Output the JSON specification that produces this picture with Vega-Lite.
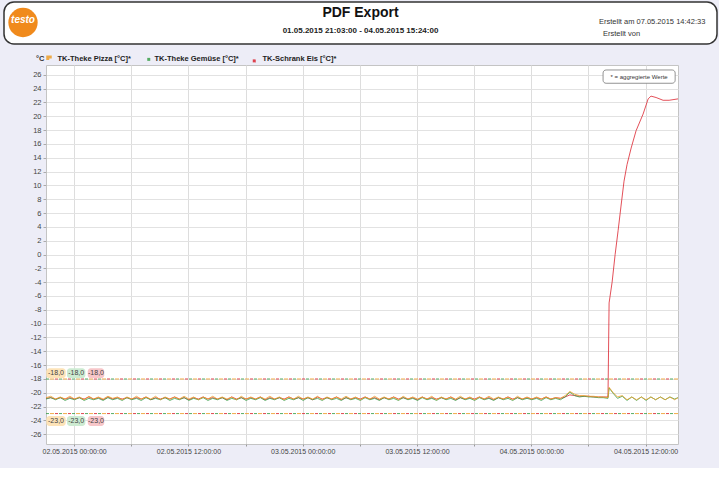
{
"$schema": "https://vega.github.io/schema/vega-lite/v6.json",
"background": "#ededf7",
"padding": {"top": 1, "left": 3, "right": 1, "bottom": 13},
"spacing": 8,
"columns": 1,
"align": "none",
"resolve": {"scale": {"color": "independent", "strokeDash": "independent"}, "legend": {"color": "independent", "strokeDash": "independent"}},
"config": {"font": "Liberation Sans", "view": {"stroke": null},
"axisY": {"tickCount": 27, "labelExpr": "replace(datum.label, '−', '-')", "labelFontSize": 7.5, "labelColor": "#444444", "tickSize": 3, "tickColor": "#aaaaaa", "labelPadding": 2, "domain": false, "gridColor": "#e2e2e2", "minExtent": 42,
"titleAngle": 0, "titleX": -2, "titleY": -7, "titleAlign": "right", "titleBaseline": "middle", "titleFontSize": 7.5, "titleFontWeight": "bold", "titleColor": "#333333"},
"axisX": {"tickCount": 11, "labelExpr": "hours(datum.value) % 12 == 0 ? timeFormat(datum.value, '%d.%m.%Y %H:%M:%S') : ''", "labelOverlap": false, "labelFlush": false, "labelFontSize": 7, "labelColor": "#444444", "labelPadding": 1, "tickSize": 2, "tickColor": "#999999", "domain": false, "gridColor": "#dddddd"}
},
"datasets": {
"temps": [
{"t":"2015-05-01T21:03","p":-20.7,"g":-20.9,"e":-20.8},
{"t":"2015-05-01T21:33","p":-20.5,"g":-20.7,"e":-20.7},
{"t":"2015-05-01T22:03","p":-20.9,"g":-21.0,"e":-20.9},
{"t":"2015-05-01T22:33","p":-20.6,"g":-20.7,"e":-20.7},
{"t":"2015-05-01T23:03","p":-20.9,"g":-21.1,"e":-20.9},
{"t":"2015-05-01T23:33","p":-20.5,"g":-20.8,"e":-20.7},
{"t":"2015-05-02T00:03","p":-20.9,"g":-21.0,"e":-20.9},
{"t":"2015-05-02T00:33","p":-20.6,"g":-20.7,"e":-20.7},
{"t":"2015-05-02T01:03","p":-21.0,"g":-21.1,"e":-20.9},
{"t":"2015-05-02T01:33","p":-20.5,"g":-20.8,"e":-20.6},
{"t":"2015-05-02T02:03","p":-20.9,"g":-21.0,"e":-20.9},
{"t":"2015-05-02T02:33","p":-20.6,"g":-20.8,"e":-20.7},
{"t":"2015-05-02T03:03","p":-20.9,"g":-21.1,"e":-21.0},
{"t":"2015-05-02T03:33","p":-20.5,"g":-20.7,"e":-20.6},
{"t":"2015-05-02T04:03","p":-20.8,"g":-21.0,"e":-20.9},
{"t":"2015-05-02T04:33","p":-20.6,"g":-20.8,"e":-20.7},
{"t":"2015-05-02T05:03","p":-21.0,"g":-21.1,"e":-20.9},
{"t":"2015-05-02T05:33","p":-20.6,"g":-20.7,"e":-20.7},
{"t":"2015-05-02T06:03","p":-20.9,"g":-21.0,"e":-20.9},
{"t":"2015-05-02T06:33","p":-20.5,"g":-20.8,"e":-20.7},
{"t":"2015-05-02T07:03","p":-20.9,"g":-21.1,"e":-20.9},
{"t":"2015-05-02T07:33","p":-20.6,"g":-20.7,"e":-20.6},
{"t":"2015-05-02T08:03","p":-20.9,"g":-21.0,"e":-21.0},
{"t":"2015-05-02T08:33","p":-20.5,"g":-20.8,"e":-20.7},
{"t":"2015-05-02T09:03","p":-21.0,"g":-21.0,"e":-20.9},
{"t":"2015-05-02T09:33","p":-20.6,"g":-20.7,"e":-20.7},
{"t":"2015-05-02T10:03","p":-20.9,"g":-21.1,"e":-20.9},
{"t":"2015-05-02T10:33","p":-20.6,"g":-20.8,"e":-20.6},
{"t":"2015-05-02T11:03","p":-20.9,"g":-21.0,"e":-20.9},
{"t":"2015-05-02T11:33","p":-20.5,"g":-20.7,"e":-20.7},
{"t":"2015-05-02T12:03","p":-20.9,"g":-21.1,"e":-21.0},
{"t":"2015-05-02T12:33","p":-20.6,"g":-20.8,"e":-20.7},
{"t":"2015-05-02T13:03","p":-21.0,"g":-21.0,"e":-20.9},
{"t":"2015-05-02T13:33","p":-20.6,"g":-20.7,"e":-20.6},
{"t":"2015-05-02T14:03","p":-20.9,"g":-21.1,"e":-20.9},
{"t":"2015-05-02T14:33","p":-20.5,"g":-20.8,"e":-20.7},
{"t":"2015-05-02T15:03","p":-20.9,"g":-21.0,"e":-20.9},
{"t":"2015-05-02T15:33","p":-20.6,"g":-20.7,"e":-20.7},
{"t":"2015-05-02T16:03","p":-20.9,"g":-21.1,"e":-21.0},
{"t":"2015-05-02T16:33","p":-20.6,"g":-20.8,"e":-20.6},
{"t":"2015-05-02T17:03","p":-21.0,"g":-21.0,"e":-20.9},
{"t":"2015-05-02T17:33","p":-20.5,"g":-20.7,"e":-20.7},
{"t":"2015-05-02T18:03","p":-20.9,"g":-21.1,"e":-20.9},
{"t":"2015-05-02T18:33","p":-20.6,"g":-20.8,"e":-20.7},
{"t":"2015-05-02T19:03","p":-20.9,"g":-21.0,"e":-20.9},
{"t":"2015-05-02T19:33","p":-20.6,"g":-20.7,"e":-20.6},
{"t":"2015-05-02T20:03","p":-20.9,"g":-21.1,"e":-21.0},
{"t":"2015-05-02T20:33","p":-20.5,"g":-20.8,"e":-20.7},
{"t":"2015-05-02T21:03","p":-20.9,"g":-21.0,"e":-20.9},
{"t":"2015-05-02T21:33","p":-20.6,"g":-20.7,"e":-20.7},
{"t":"2015-05-02T22:03","p":-21.0,"g":-21.1,"e":-20.9},
{"t":"2015-05-02T22:33","p":-20.6,"g":-20.8,"e":-20.6},
{"t":"2015-05-02T23:03","p":-20.9,"g":-21.0,"e":-20.9},
{"t":"2015-05-02T23:33","p":-20.5,"g":-20.7,"e":-20.7},
{"t":"2015-05-03T00:03","p":-20.9,"g":-21.1,"e":-20.9},
{"t":"2015-05-03T00:33","p":-20.6,"g":-20.7,"e":-20.7},
{"t":"2015-05-03T01:03","p":-20.9,"g":-21.0,"e":-21.0},
{"t":"2015-05-03T01:33","p":-20.5,"g":-20.8,"e":-20.6},
{"t":"2015-05-03T02:03","p":-21.0,"g":-21.1,"e":-20.9},
{"t":"2015-05-03T02:33","p":-20.6,"g":-20.7,"e":-20.7},
{"t":"2015-05-03T03:03","p":-20.9,"g":-21.0,"e":-20.9},
{"t":"2015-05-03T03:33","p":-20.6,"g":-20.8,"e":-20.6},
{"t":"2015-05-03T04:03","p":-20.9,"g":-21.1,"e":-21.0},
{"t":"2015-05-03T04:33","p":-20.5,"g":-20.7,"e":-20.7},
{"t":"2015-05-03T05:03","p":-20.9,"g":-21.0,"e":-20.9},
{"t":"2015-05-03T05:33","p":-20.6,"g":-20.8,"e":-20.7},
{"t":"2015-05-03T06:03","p":-21.0,"g":-21.1,"e":-20.9},
{"t":"2015-05-03T06:33","p":-20.6,"g":-20.7,"e":-20.6},
{"t":"2015-05-03T07:03","p":-20.9,"g":-21.0,"e":-20.9},
{"t":"2015-05-03T07:33","p":-20.5,"g":-20.8,"e":-20.7},
{"t":"2015-05-03T08:03","p":-20.9,"g":-21.1,"e":-21.0},
{"t":"2015-05-03T08:33","p":-20.6,"g":-20.7,"e":-20.7},
{"t":"2015-05-03T09:03","p":-20.9,"g":-21.0,"e":-20.9},
{"t":"2015-05-03T09:33","p":-20.6,"g":-20.8,"e":-20.6},
{"t":"2015-05-03T10:03","p":-21.0,"g":-21.1,"e":-20.9},
{"t":"2015-05-03T10:33","p":-20.5,"g":-20.7,"e":-20.7},
{"t":"2015-05-03T11:03","p":-20.9,"g":-21.0,"e":-20.9},
{"t":"2015-05-03T11:33","p":-20.6,"g":-20.8,"e":-20.7},
{"t":"2015-05-03T12:03","p":-20.9,"g":-21.1,"e":-21.0},
{"t":"2015-05-03T12:33","p":-20.6,"g":-20.7,"e":-20.6},
{"t":"2015-05-03T13:03","p":-20.9,"g":-21.0,"e":-20.9},
{"t":"2015-05-03T13:33","p":-20.5,"g":-20.8,"e":-20.7},
{"t":"2015-05-03T14:03","p":-21.0,"g":-21.1,"e":-20.9},
{"t":"2015-05-03T14:33","p":-20.6,"g":-20.7,"e":-20.7},
{"t":"2015-05-03T15:03","p":-20.9,"g":-21.0,"e":-20.9},
{"t":"2015-05-03T15:33","p":-20.6,"g":-20.8,"e":-20.6},
{"t":"2015-05-03T16:03","p":-20.9,"g":-21.1,"e":-21.0},
{"t":"2015-05-03T16:33","p":-20.5,"g":-20.7,"e":-20.7},
{"t":"2015-05-03T17:03","p":-20.9,"g":-21.0,"e":-20.9},
{"t":"2015-05-03T17:33","p":-20.6,"g":-20.8,"e":-20.7},
{"t":"2015-05-03T18:03","p":-21.0,"g":-21.1,"e":-20.9},
{"t":"2015-05-03T18:33","p":-20.6,"g":-20.7,"e":-20.6},
{"t":"2015-05-03T19:03","p":-20.9,"g":-21.0,"e":-20.9},
{"t":"2015-05-03T19:33","p":-20.5,"g":-20.8,"e":-20.7},
{"t":"2015-05-03T20:03","p":-20.9,"g":-21.1,"e":-21.0},
{"t":"2015-05-03T20:33","p":-20.6,"g":-20.7,"e":-20.7},
{"t":"2015-05-03T21:03","p":-20.9,"g":-21.0,"e":-20.9},
{"t":"2015-05-03T21:33","p":-20.6,"g":-20.8,"e":-20.6},
{"t":"2015-05-03T22:03","p":-21.0,"g":-21.1,"e":-20.9},
{"t":"2015-05-03T22:33","p":-20.5,"g":-20.7,"e":-20.7},
{"t":"2015-05-03T23:03","p":-20.9,"g":-21.0,"e":-20.9},
{"t":"2015-05-03T23:33","p":-20.6,"g":-20.8,"e":-20.7},
{"t":"2015-05-04T00:03","p":-20.9,"g":-21.0,"e":-20.9},
{"t":"2015-05-04T00:33","p":-20.6,"g":-20.8,"e":-20.7},
{"t":"2015-05-04T01:03","p":-20.9,"g":-21.1,"e":-20.9},
{"t":"2015-05-04T01:33","p":-20.6,"g":-20.7,"e":-20.6},
{"t":"2015-05-04T02:03","p":-20.9,"g":-21.0,"e":-20.9},
{"t":"2015-05-04T02:33","p":-20.7,"g":-20.8,"e":-20.7},
{"t":"2015-05-04T03:03","p":-20.8,"g":-21.0,"e":-20.8},
{"t":"2015-05-04T03:33","p":-20.4,"g":-20.6,"e":-20.6},
{"t":"2015-05-04T04:03","p":-19.8,"g":-19.9,"e":-20.3},
{"t":"2015-05-04T04:33","p":-20.2,"g":-20.4,"e":-20.4},
{"t":"2015-05-04T05:03","p":-20.4,"g":-20.6,"e":-20.5},
{"t":"2015-05-04T05:33","p":-20.4,"g":-20.5,"e":-20.5},
{"t":"2015-05-04T06:03","p":-20.5,"g":-20.6,"e":-20.5},
{"t":"2015-05-04T06:33","p":-20.5,"g":-20.6,"e":-20.6},
{"t":"2015-05-04T07:03","p":-20.6,"g":-20.7,"e":-20.6},
{"t":"2015-05-04T07:33","p":-20.6,"g":-20.7,"e":-20.6},
{"t":"2015-05-04T08:03","p":-20.7,"g":-20.8,"e":-20.6},
{"t":"2015-05-04T08:10","p":-19.2,"g":-19.3,"e":-7.0},
{"t":"2015-05-04T08:29","e":-4.0},
{"t":"2015-05-04T08:33","p":-19.9,"g":-20.0},
{"t":"2015-05-04T08:48","e":0.0},
{"t":"2015-05-04T09:03","p":-20.6,"g":-20.8},
{"t":"2015-05-04T09:07","e":3.5},
{"t":"2015-05-04T09:25","e":7.0},
{"t":"2015-05-04T09:33","p":-20.4,"g":-20.5},
{"t":"2015-05-04T09:44","e":10.6},
{"t":"2015-05-04T10:03","p":-21.0,"g":-21.1,"e":13.0},
{"t":"2015-05-04T10:29","e":15.4},
{"t":"2015-05-04T10:33","p":-20.6,"g":-20.6},
{"t":"2015-05-04T11:00","e":17.9},
{"t":"2015-05-04T11:03","p":-21.0,"g":-21.1},
{"t":"2015-05-04T11:33","p":-20.6,"g":-20.6},
{"t":"2015-05-04T11:44","e":20.3},
{"t":"2015-05-04T12:03","p":-21.0,"g":-21.1},
{"t":"2015-05-04T12:16","e":22.5},
{"t":"2015-05-04T12:33","p":-20.6,"g":-20.6},
{"t":"2015-05-04T12:34","e":22.9},
{"t":"2015-05-04T13:03","p":-21.0,"g":-21.0},
{"t":"2015-05-04T13:06","e":22.7},
{"t":"2015-05-04T13:33","p":-20.6,"g":-20.6},
{"t":"2015-05-04T13:50","e":22.3},
{"t":"2015-05-04T14:03","p":-21.0,"g":-21.0},
{"t":"2015-05-04T14:28","e":22.3},
{"t":"2015-05-04T14:33","p":-20.6,"g":-20.6},
{"t":"2015-05-04T15:03","p":-21.0,"g":-20.9},
{"t":"2015-05-04T15:24","p":-20.7,"g":-20.7,"e":22.5}
],
"limits": [
{"key":"p","v":-18},{"key":"g","v":-18},{"key":"e","v":-18},
{"key":"p","v":-23},{"key":"g","v":-23},{"key":"e","v":-23}
]
},
"concat": [
{
"width": 671, "height": 42,
"view": {"fill": null, "stroke": null},
"data": {"values": [{"title": "PDF Export", "range": "01.05.2015 21:03:00 - 04.05.2015 15:24:00", "made": "Erstellt am  07.05.2015 14:42:33", "by": "Erstellt von", "logo": "testo"}]},
"layer": [
{"mark": {"type": "rect", "fill": "white", "stroke": "#333333", "strokeWidth": 1.5, "cornerRadius": 10, "x": -42, "x2": 671, "y": 0, "y2": 42}, "encoding": {}},
{"mark": {"type": "point", "shape": "circle", "filled": true, "size": 860, "color": "#f08a1c", "opacity": 1, "x": -23, "y": 20.5}, "encoding": {}},
{"mark": {"type": "text", "fontSize": 10, "fontWeight": "bold", "fontStyle": "italic", "color": "white", "x": -23, "y": 18, "baseline": "middle"}, "encoding": {"text": {"field": "logo"}}},
{"mark": {"type": "text", "fontSize": 14, "fontWeight": "bold", "color": "#111111", "x": 314.5, "y": 11, "baseline": "middle"}, "encoding": {"text": {"field": "title"}}},
{"mark": {"type": "text", "fontSize": 8, "fontWeight": "bold", "color": "#222222", "x": 314.5, "y": 29, "baseline": "middle"}, "encoding": {"text": {"field": "range"}}},
{"mark": {"type": "text", "fontSize": 7.5, "align": "left", "x": 553, "y": 20, "baseline": "middle", "color": "#333333"}, "encoding": {"text": {"field": "made"}}},
{"mark": {"type": "text", "fontSize": 7.5, "align": "left", "x": 557, "y": 32, "baseline": "middle", "color": "#333333"}, "encoding": {"text": {"field": "by"}}}
]
},
{
"width": 632, "height": 379,
"view": {"fill": "white", "stroke": "#c4c4c4", "strokeWidth": 1},
"layer": [
{"data": {"name": "limits"},
"mark": {"type": "rule", "strokeWidth": 1, "opacity": 0.85},
"encoding": {
"y": {"field": "v", "type": "quantitative", "title": "°C", "scale": {"domain": [-27.4, 27.4], "nice": false, "zero": false}},
"color": {"field": "key", "type": "nominal"},
"strokeDash": {"field": "key", "type": "nominal", "scale": {"domain": ["p","g","e"], "range": [[4,9],[0,5,3,5],[0,9,3,1]]}, "legend": null}
}},
{"data": {"name": "temps"},
"transform": [{"fold": ["e","g","p"], "as": ["key","v"]}, {"filter": "isValid(datum.v)"}],
"mark": {"type": "line", "strokeWidth": 1, "opacity": 0.8},
"encoding": {
"y": {"field": "v", "type": "quantitative", "title": "°C"},
"x": {"field": "t", "type": "temporal", "title": null,
"scale": {"domain": [{"year":2015,"month":5,"date":1,"hours":21,"minutes":3},{"year":2015,"month":5,"date":4,"hours":15,"minutes":24}]}},
"color": {"field": "key", "type": "nominal",
"scale": {"domain": ["p","g","e"], "range": ["#ee9f2a","#3aa04a","#dc2430"]},
"legend": {"orient": "top", "direction": "horizontal", "title": null, "padding": 0,
"symbolType": "square", "symbolSize": 16, "symbolStrokeWidth": 3, "symbolOpacity": 1,
"labelFontSize": 7.5, "labelFontWeight": "bold", "labelColor": "#222222", "columnPadding": 7, "labelOffset": 4, "offset": -2,
"labelExpr": "datum.label == 'p' ? 'TK-Theke Pizza [°C]*' : datum.label == 'g' ? 'TK-Theke Gemüse [°C]*' : 'TK-Schrank Eis [°C]*'"}}
}},
{"data": {"values": [{"label": "-18,0"}]},
"layer": [
{"mark": {"type": "rect", "fill": "#fde3b8", "cornerRadius": 3},
"encoding": {"x": {"datum": {"year":2015,"month":5,"date":1,"hours":21,"minutes":5}, "type": "temporal"}, "x2": {"datum": {"year":2015,"month":5,"date":1,"hours":23,"minutes":7}}, "y": {"datum": -16.45, "type": "quantitative"}, "y2": {"datum": -17.9}}},
{"mark": {"type": "text", "fontSize": 7, "color": "#444444", "baseline": "middle"},
"encoding": {"x": {"datum": {"year":2015,"month":5,"date":1,"hours":22,"minutes":6}, "type": "temporal"}, "y": {"datum": -17.18, "type": "quantitative"}, "text": {"field": "label"}}}
]},
{"data": {"values": [{"label": "-18,0"}]},
"layer": [
{"mark": {"type": "rect", "fill": "#cdebd2", "cornerRadius": 3},
"encoding": {"x": {"datum": {"year":2015,"month":5,"date":1,"hours":23,"minutes":15}, "type": "temporal"}, "x2": {"datum": {"year":2015,"month":5,"date":2,"hours":1,"minutes":11}}, "y": {"datum": -16.45, "type": "quantitative"}, "y2": {"datum": -17.9}}},
{"mark": {"type": "text", "fontSize": 7, "color": "#444444", "baseline": "middle"},
"encoding": {"x": {"datum": {"year":2015,"month":5,"date":2,"hours":0,"minutes":13}, "type": "temporal"}, "y": {"datum": -17.18, "type": "quantitative"}, "text": {"field": "label"}}}
]},
{"data": {"values": [{"label": "-18,0"}]},
"layer": [
{"mark": {"type": "rect", "fill": "#f7c6c9", "cornerRadius": 3},
"encoding": {"x": {"datum": {"year":2015,"month":5,"date":2,"hours":1,"minutes":26}, "type": "temporal"}, "x2": {"datum": {"year":2015,"month":5,"date":2,"hours":3,"minutes":10}}, "y": {"datum": -16.45, "type": "quantitative"}, "y2": {"datum": -17.9}}},
{"mark": {"type": "text", "fontSize": 7, "color": "#444444", "baseline": "middle"},
"encoding": {"x": {"datum": {"year":2015,"month":5,"date":2,"hours":2,"minutes":18}, "type": "temporal"}, "y": {"datum": -17.18, "type": "quantitative"}, "text": {"field": "label"}}}
]},
{"data": {"values": [{"label": "-23,0"}]},
"layer": [
{"mark": {"type": "rect", "fill": "#fde3b8", "cornerRadius": 3},
"encoding": {"x": {"datum": {"year":2015,"month":5,"date":1,"hours":21,"minutes":5}, "type": "temporal"}, "x2": {"datum": {"year":2015,"month":5,"date":1,"hours":23,"minutes":7}}, "y": {"datum": -23.35, "type": "quantitative"}, "y2": {"datum": -24.8}}},
{"mark": {"type": "text", "fontSize": 7, "color": "#444444", "baseline": "middle"},
"encoding": {"x": {"datum": {"year":2015,"month":5,"date":1,"hours":22,"minutes":6}, "type": "temporal"}, "y": {"datum": -24.08, "type": "quantitative"}, "text": {"field": "label"}}}
]},
{"data": {"values": [{"label": "-23,0"}]},
"layer": [
{"mark": {"type": "rect", "fill": "#cdebd2", "cornerRadius": 3},
"encoding": {"x": {"datum": {"year":2015,"month":5,"date":1,"hours":23,"minutes":15}, "type": "temporal"}, "x2": {"datum": {"year":2015,"month":5,"date":2,"hours":1,"minutes":11}}, "y": {"datum": -23.35, "type": "quantitative"}, "y2": {"datum": -24.8}}},
{"mark": {"type": "text", "fontSize": 7, "color": "#444444", "baseline": "middle"},
"encoding": {"x": {"datum": {"year":2015,"month":5,"date":2,"hours":0,"minutes":13}, "type": "temporal"}, "y": {"datum": -24.08, "type": "quantitative"}, "text": {"field": "label"}}}
]},
{"data": {"values": [{"label": "-23,0"}]},
"layer": [
{"mark": {"type": "rect", "fill": "#f7c6c9", "cornerRadius": 3},
"encoding": {"x": {"datum": {"year":2015,"month":5,"date":2,"hours":1,"minutes":26}, "type": "temporal"}, "x2": {"datum": {"year":2015,"month":5,"date":2,"hours":3,"minutes":10}}, "y": {"datum": -23.35, "type": "quantitative"}, "y2": {"datum": -24.8}}},
{"mark": {"type": "text", "fontSize": 7, "color": "#444444", "baseline": "middle"},
"encoding": {"x": {"datum": {"year":2015,"month":5,"date":2,"hours":2,"minutes":18}, "type": "temporal"}, "y": {"datum": -24.08, "type": "quantitative"}, "text": {"field": "label"}}}
]},
{"data": {"values": [{"label": "* = aggregierte Werte"}]},
"layer": [
{"mark": {"type": "rect", "fill": "white", "stroke": "#777777", "strokeWidth": 0.8, "cornerRadius": 3},
"encoding": {"x": {"datum": {"year":2015,"month":5,"date":4,"hours":7,"minutes":32}, "type": "temporal"}, "x2": {"datum": {"year":2015,"month":5,"date":4,"hours":15,"minutes":6}}, "y": {"datum": 26.68, "type": "quantitative"}, "y2": {"datum": 24.76}}},
{"mark": {"type": "text", "fontSize": 6, "color": "#333333", "baseline": "middle"},
"encoding": {"x": {"datum": {"year":2015,"month":5,"date":4,"hours":11,"minutes":19}, "type": "temporal"}, "y": {"datum": 25.72, "type": "quantitative"}, "text": {"field": "label"}}}
]}
]
}
]
}
